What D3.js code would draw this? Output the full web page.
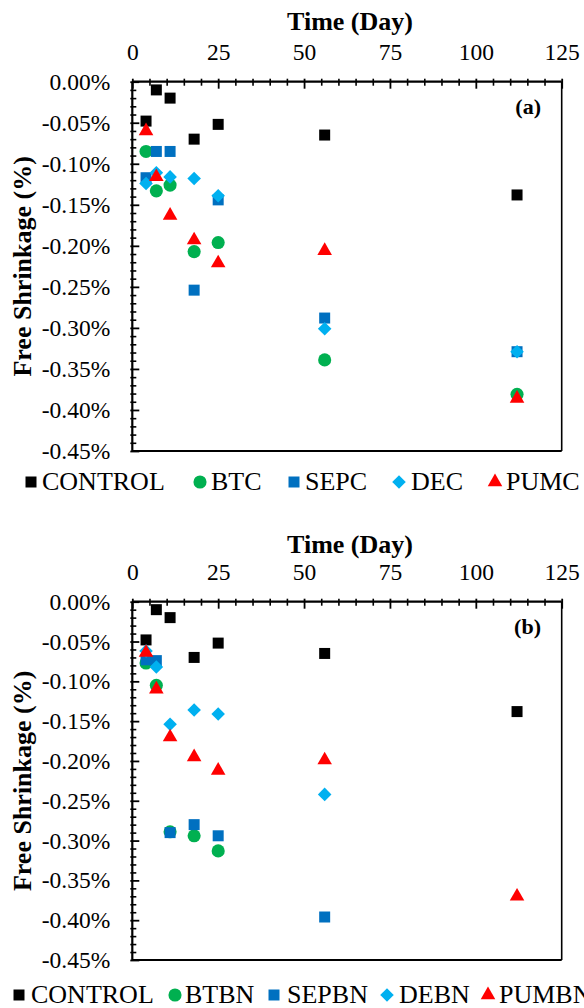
<!DOCTYPE html>
<html>
<head>
<meta charset="utf-8">
<script src="https://cdn.jsdelivr.net/npm/d3@7"></script>
<style>
  html, body { margin: 0; padding: 0; background: #fff; }
  svg { display: block; }
  text { font-family: "Liberation Serif", "Times New Roman", serif; fill: #000; }
</style>
</head>
<body>
<svg id="chart" width="584" height="1008"></svg>
<script>
// ---------- DATA ----------
const days = [4, 7, 11, 18, 25, 56, 112];
const xTicks = [0, 25, 50, 75, 100, 125];
const yTicks = [0, -0.05, -0.10, -0.15, -0.20, -0.25, -0.30, -0.35, -0.40, -0.45];

// Panel (a)
const controlA = [-0.048, -0.010, -0.020, -0.070, -0.052, -0.065, -0.138];
const btc      = [-0.085, -0.133, -0.126, -0.207, -0.196, -0.339, -0.381];
const sepc     = [-0.117, -0.085, -0.085, -0.254, -0.144, -0.288, -0.329];
const dec      = [-0.124, -0.111, -0.116, -0.118, -0.139, -0.301, -0.329];
const pumc     = [-0.060, -0.116, -0.163, -0.193, -0.221, -0.206, -0.386];

// Panel (b)
const controlB = [-0.048, -0.010, -0.020, -0.070, -0.052, -0.065, -0.138];
const btbn     = [-0.077, -0.105, -0.289, -0.294, -0.313, null, null];
const sepbn    = [-0.073, -0.074, -0.290, -0.280, -0.294, -0.396, null];
const debn     = [-0.062, -0.082, -0.154, -0.136, -0.141, -0.242, null];
const pumbn    = [-0.064, -0.110, -0.170, -0.195, -0.212, -0.199, -0.370];

const namesA = ["CONTROL", "BTC", "SEPC", "DEC", "PUMC"];
const namesB = ["CONTROL", "BTBN", "SEPBN", "DEBN", "PUMBN"];
const colors = ["#000000", "#00B050", "#0070C0", "#00B0F0", "#FF0000"];
const shapes = ["square", "circle", "square", "diamond", "triangle"];

// ---------- LAYOUT ----------
const svg = d3.select("#chart");
const FONT_TICK = 23.5, FONT_TITLE = 26, FONT_LEG = 26;

const panels = [
  { label: "(a)", names: namesA, series: [controlA, btc, sepc, dec, pumc],
    top: 81.7, bottom: 451, titleY: 30, legendBase: 490,
    legX: [31, 200, 294, 399, 495], legTX: [42, 211, 305, 411, 506] },
  { label: "(b)", names: namesB, series: [controlB, btbn, sepbn, debn, pumbn],
    top: 601.7, bottom: 960, titleY: 553, legendBase: 1003,
    legX: [19, 175, 274, 387, 488], legTX: [31, 185, 287, 399, 499] }
];

const left = 132.3, right = 561.7;
const x = d3.scaleLinear().domain([0, 125]).range([left, right]);

function symbolPath(shape) {
  if (shape === "square") return d3.symbol(d3.symbolSquare, 121)();
  if (shape === "circle") return d3.symbol(d3.symbolCircle, 135)();
  if (shape === "diamond") return d3.symbol(d3.symbolSquare, 92)();
  return d3.symbol(d3.symbolTriangle, 92)();
}
function symbolTransform(shape, px, py) {
  return shape === "diamond" ? `translate(${px},${py}) rotate(45)` : `translate(${px},${py})`;
}

panels.forEach(p => {
  const g = svg.append("g");
  const y = d3.scaleLinear().domain([-0.45, 0]).range([p.bottom, p.top]);

  // frame
  g.append("line").attr("x1", right).attr("x2", right).attr("y1", p.top).attr("y2", p.bottom)
    .attr("stroke", "#000").attr("stroke-width", 1.6);
  g.append("line").attr("x1", left).attr("x2", right).attr("y1", p.bottom).attr("y2", p.bottom)
    .attr("stroke", "#000").attr("stroke-width", 2.2);

  // x minor ticks (inside, crossing)
  const xMinor = d3.range(0, 126, 5).filter(v => v % 25 !== 0);
  const gxMinor = g.append("g").attr("transform", `translate(0,${p.top})`)
    .call(d3.axisBottom(x).tickValues(xMinor).tickSize(4).tickFormat(""));
  gxMinor.select(".domain").remove();
  gxMinor.selectAll(".tick line").attr("y1", -3).attr("stroke-width", 1.6);

  const gxMajor = g.append("g").attr("transform", `translate(0,${p.top})`)
    .call(d3.axisBottom(x).tickValues(xTicks).tickSize(7).tickFormat(""));
  gxMajor.select(".domain").remove();
  gxMajor.selectAll(".tick line").attr("y1", -3).attr("stroke-width", 1.8);

  // x labels
  const gxLab = g.append("g").attr("transform", `translate(0,${p.top})`)
    .call(d3.axisTop(x).tickValues(xTicks).tickSize(0).tickPadding(22).tickFormat(d3.format("d")));
  gxLab.select(".domain").remove();
  gxLab.selectAll("text").attr("font-size", FONT_TICK);

  // y minor ticks
  const yMinor = d3.range(1, 45).map(i => -i / 100).filter((v, i) => (i + 1) % 5 !== 0);
  const gyMinor = g.append("g").attr("transform", `translate(${left},0)`)
    .call(d3.axisRight(y).tickValues(yMinor).tickSize(4).tickFormat(""));
  gyMinor.select(".domain").remove();
  gyMinor.selectAll(".tick line").attr("x1", -2).attr("stroke-width", 1.6);

  const gyMajor = g.append("g").attr("transform", `translate(${left},0)`)
    .call(d3.axisRight(y).tickValues(yTicks).tickSize(7).tickFormat(""));
  gyMajor.select(".domain").remove();
  gyMajor.selectAll(".tick line").attr("x1", -2).attr("stroke-width", 1.8);

  // y labels
  const gyLab = g.append("g").attr("transform", `translate(${left},0)`)
    .call(d3.axisLeft(y).tickValues(yTicks).tickSize(0).tickPadding(22)
      .tickFormat(d => (Math.abs(d) < 1e-9 ? 0 : d).toFixed(2) + "%"));
  gyLab.select(".domain").remove();
  gyLab.selectAll("text").attr("font-size", FONT_TICK);

  // top & left axis lines
  g.append("line").attr("x1", left).attr("x2", right).attr("y1", p.top).attr("y2", p.top)
    .attr("stroke", "#000").attr("stroke-width", 2.2);
  g.append("line").attr("x1", left).attr("x2", left).attr("y1", p.top).attr("y2", p.bottom)
    .attr("stroke", "#000").attr("stroke-width", 2.2);

  // titles
  g.append("text").attr("x", 350).attr("y", p.titleY).attr("text-anchor", "middle")
    .attr("font-size", FONT_TITLE).attr("font-weight", "bold").text("Time (Day)");
  g.append("text")
    .attr("transform", `translate(31,${(p.top + p.bottom) / 2}) rotate(-90)`)
    .attr("text-anchor", "middle").attr("font-size", FONT_TITLE).attr("font-weight", "bold")
    .text("Free Shrinkage (%)");
  g.append("text").attr("x", 541).attr("y", p.top + 32).attr("text-anchor", "end")
    .attr("font-size", 22).attr("font-weight", "bold").text(p.label);

  // points
  p.series.forEach((vals, si) => {
    const pts = days.map((d, i) => ({ d, v: vals[i] })).filter(o => o.v !== null);
    g.append("g").selectAll("path").data(pts).join("path")
      .attr("d", symbolPath(shapes[si]))
      .attr("transform", o => symbolTransform(shapes[si], x(o.d), y(o.v)))
      .attr("fill", colors[si]);
  });

  // legend
  p.names.forEach((name, si) => {
    g.append("path").attr("d", symbolPath(shapes[si]))
      .attr("transform", symbolTransform(shapes[si], p.legX[si], p.legendBase - 8))
      .attr("fill", colors[si]);
    g.append("text").attr("x", p.legTX[si]).attr("y", p.legendBase)
      .attr("font-size", FONT_LEG).text(name);
  });
});
</script>
</body>
</html>
